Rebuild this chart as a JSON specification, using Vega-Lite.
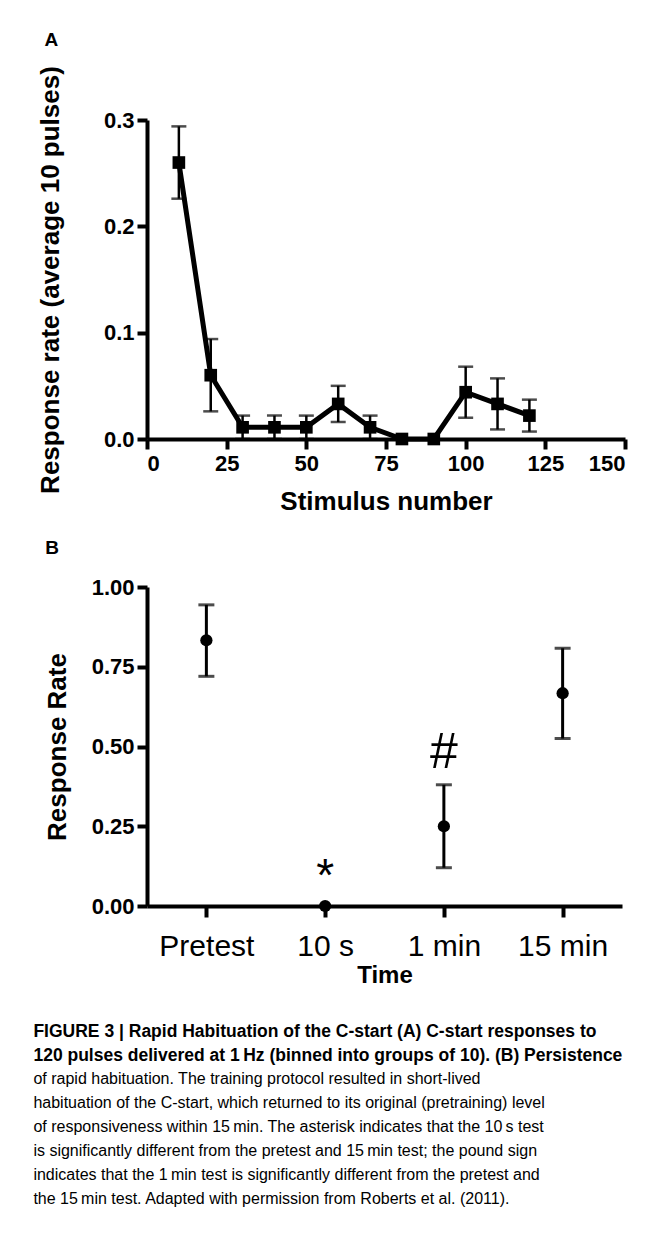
{
  "$schema": "https://vega.github.io/schema/vega-lite/v6.json",
  "background": "white",
  "padding": {"left": 33, "top": 30, "right": 10, "bottom": 10},
  "config": {
    "font": "Liberation Sans",
    "view": {"stroke": null},
    "axis": {
      "domainColor": "black", "domainWidth": 4, "tickColor": "black", "tickWidth": 4, "tickSize": 10,
      "grid": false, "labelColor": "black", "titleColor": "black",
      "labelFont": "Liberation Sans", "titleFont": "Liberation Sans",
      "labelFontWeight": "bold", "labelFontSize": 22, "titleFontSize": 26, "titleFontWeight": "bold",
      "labelPadding": 3
    },
    "concat": {"spacing": 25}
  },
  "title": {
    "text": ["FIGURE 3 | Rapid Habituation of the C-start (A) C-start responses to", "120 pulses delivered at 1\u2009Hz (binned into groups of 10). (B) Persistence"],
    "subtitle": ["of rapid habituation. The training protocol resulted in short-lived", "habituation of the C-start, which returned to its original (pretraining) level", "of responsiveness within 15\u2009min. The asterisk indicates that the 10\u2009s test", "is significantly different from the pretest and 15\u2009min test; the pound sign", "indicates that the 1\u2009min test is significantly different from the pretest and", "the 15\u2009min test. Adapted with permission from Roberts et al. (2011)."],
    "orient": "bottom", "anchor": "start", "frame": "bounds", "dx": -4,
    "font": "Liberation Sans", "fontSize": 17.5, "fontWeight": "bold", "color": "black", "lineHeight": 24,
    "subtitleFont": "Liberation Sans", "subtitleFontSize": 16, "subtitleColor": "black", "subtitleLineHeight": 24, "subtitlePadding": 6,
    "offset": 36
  },
  "vconcat": [
    {
      "width": 478, "height": 319,
      "title": {"text": "A", "fontSize": 19, "fontWeight": "bold", "anchor": "start", "frame": "bounds", "offset": 16, "dx": 7, "color": "black", "font": "Liberation Sans"},
      "data": {"values": [
        {"stimulus": 10, "rate": 0.26, "lo": 0.226, "hi": 0.294},
        {"stimulus": 20, "rate": 0.06, "lo": 0.026, "hi": 0.094},
        {"stimulus": 30, "rate": 0.011, "lo": 0.0, "hi": 0.022},
        {"stimulus": 40, "rate": 0.011, "lo": 0.0, "hi": 0.022},
        {"stimulus": 50, "rate": 0.011, "lo": 0.0, "hi": 0.022},
        {"stimulus": 60, "rate": 0.033, "lo": 0.016, "hi": 0.05},
        {"stimulus": 70, "rate": 0.011, "lo": 0.0, "hi": 0.022},
        {"stimulus": 80, "rate": 0.0, "lo": 0.0, "hi": 0.0},
        {"stimulus": 90, "rate": 0.0, "lo": 0.0, "hi": 0.0},
        {"stimulus": 100, "rate": 0.044, "lo": 0.02, "hi": 0.068},
        {"stimulus": 110, "rate": 0.033, "lo": 0.009, "hi": 0.057},
        {"stimulus": 120, "rate": 0.022, "lo": 0.007, "hi": 0.037}
      ]},
      "encoding": {
        "x": {"field": "stimulus", "type": "quantitative", "scale": {"domain": [0, 150], "nice": false},
              "axis": {"values": [0, 25, 50, 75, 100, 125, 150], "title": "Stimulus number", "titlePadding": 14, "labelPadding": 4}}
      },
      "layer": [
        {
          "transform": [{"filter": "datum.hi > datum.lo"}],
          "mark": {"type": "errorbar", "color": "black", "thickness": 2.5, "ticks": {"size": 15, "thickness": 2.5, "color": "black"}},
          "encoding": {
            "y": {"field": "lo", "type": "quantitative", "scale": {"domain": [0, 0.3], "nice": false},
                  "axis": {"values": [0, 0.1, 0.2, 0.3], "format": ".1f", "title": "Response rate (average 10 pulses)", "titlePadding": 40}},
            "y2": {"field": "hi"}
          }
        },
        {
          "mark": {"type": "line", "color": "black", "strokeWidth": 5},
          "encoding": {"y": {"field": "rate", "type": "quantitative", "axis": {"values": [0, 0.1, 0.2, 0.3], "format": ".1f", "title": "Response rate (average 10 pulses)", "titlePadding": 40}}}
        },
        {
          "mark": {"type": "point", "shape": "square", "filled": true, "size": 160, "color": "black", "opacity": 1},
          "encoding": {"y": {"field": "rate", "type": "quantitative"}}
        }
      ]
    },
    {
      "width": 475, "height": 319,
      "title": {"text": "B", "fontSize": 19, "fontWeight": "bold", "anchor": "start", "frame": "bounds", "offset": 18, "dx": 1, "color": "black", "font": "Liberation Sans"},
      "data": {"values": [
        {"time": "Pretest", "rate": 0.833, "lo": 0.72, "hi": 0.944},
        {"time": "10 s", "rate": 0.0, "lo": 0.0, "hi": 0.0, "sig": "*", "sig_y": 0.09},
        {"time": "1 min", "rate": 0.25, "lo": 0.12, "hi": 0.38, "sig": "#", "sig_y": 0.48},
        {"time": "15 min", "rate": 0.667, "lo": 0.525, "hi": 0.808}
      ]},
      "encoding": {
        "x": {"field": "time", "type": "nominal", "sort": ["Pretest", "10 s", "1 min", "15 min"],
              "scale": {"type": "point", "padding": 0.5},
              "axis": {"labelAngle": 0, "labelFontSize": 30, "labelFontWeight": "normal", "title": "Time", "titleFontSize": 24, "tickSize": 11, "labelPadding": 14, "titlePadding": 2}}
      },
      "layer": [
        {
          "transform": [{"filter": "datum.hi > datum.lo"}],
          "mark": {"type": "errorbar", "color": "black", "thickness": 3, "ticks": {"size": 16, "thickness": 3, "color": "black"}},
          "encoding": {
            "y": {"field": "lo", "type": "quantitative", "scale": {"domain": [0, 1], "nice": false},
                  "axis": {"values": [0, 0.25, 0.5, 0.75, 1], "format": ".2f", "title": "Response Rate", "titlePadding": 21}},
            "y2": {"field": "hi"}
          }
        },
        {
          "mark": {"type": "point", "shape": "circle", "filled": true, "size": 150, "color": "black", "opacity": 1},
          "encoding": {"y": {"field": "rate", "type": "quantitative", "axis": {"values": [0, 0.25, 0.5, 0.75, 1], "format": ".2f", "title": "Response Rate", "titlePadding": 21}}}
        },
        {
          "transform": [{"filter": "datum.sig == '#'"}],
          "mark": {"type": "text", "fontSize": 50, "baseline": "middle", "color": "black", "font": "Liberation Sans"},
          "encoding": {"text": {"field": "sig"}, "y": {"field": "sig_y", "type": "quantitative"}}
        },
        {
          "transform": [{"filter": "datum.sig == '*'"}],
          "mark": {"type": "text", "fontSize": 46, "baseline": "middle", "color": "black", "font": "Liberation Sans"},
          "encoding": {"text": {"field": "sig"}, "y": {"field": "sig_y", "type": "quantitative"}}
        }
      ]
    }
  ]
}
